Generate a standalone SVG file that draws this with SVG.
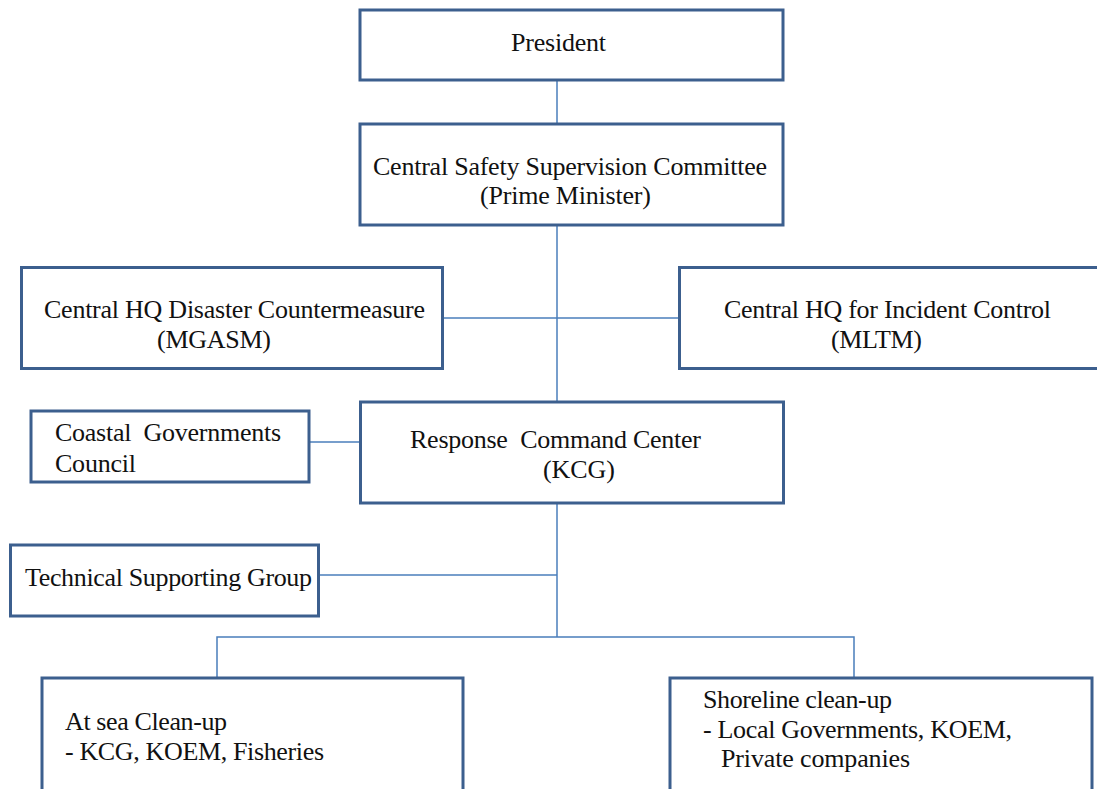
<svg xmlns="http://www.w3.org/2000/svg" width="1097" height="789" viewBox="0 0 1097 789">
<style>
.box{fill:#fff;stroke:#3c5f8e;stroke-width:3}
.t{font-family:"Liberation Serif","Times New Roman",serif;font-size:26px;fill:#111}
.c{fill:none;stroke:#4a7ebb;stroke-width:1.5}
</style>
<rect width="1097" height="789" fill="#fff"/>
<g id="connectors">
<path class="c" d="M557 81V123"/>
<path class="c" d="M557 226V402"/>
<path class="c" d="M443 318H679"/>
<path class="c" d="M309 442H360"/>
<path class="c" d="M557 503V637"/>
<path class="c" d="M319 575H557"/>
<path class="c" d="M217 678V637H854V678"/>
</g>
<g id="president">
<rect class="box" x="360" y="10" width="423" height="70"/>
<text class="t" x="511" y="51" textLength="95">President</text>
</g>
<g id="central-safety">
<rect class="box" x="360" y="124" width="423" height="101"/>
<text class="t" x="373" y="175" textLength="394">Central Safety Supervision Committee</text>
<text class="t" x="480" y="204" textLength="171">(Prime Minister)</text>
</g>
<g id="central-hq-disaster">
<rect class="box" x="21.5" y="267.5" width="421" height="101"/>
<text class="t" x="44" y="318" textLength="381">Central HQ Disaster Countermeasure</text>
<text class="t" x="157" y="348" textLength="114">(MGASM)</text>
</g>
<g id="central-hq-incident">
<rect class="box" x="679.5" y="267.5" width="430" height="101"/>
<text class="t" x="724" y="318" textLength="327">Central HQ for Incident Control</text>
<text class="t" x="831" y="348" textLength="91">(MLTM)</text>
</g>
<g id="coastal">
<rect class="box" x="31" y="411" width="278" height="71"/>
<text class="t" x="55" y="441" textLength="226" xml:space="preserve">Coastal  Governments</text>
<text class="t" x="55" y="472" textLength="81">Council</text>
</g>
<g id="response">
<rect class="box" x="360.5" y="402" width="423" height="101"/>
<text class="t" x="410" y="448" textLength="291" xml:space="preserve">Response  Command Center</text>
<text class="t" x="543" y="478" textLength="72">(KCG)</text>
</g>
<g id="technical">
<rect class="box" x="10.5" y="545" width="308" height="71"/>
<text class="t" x="25" y="586" textLength="287">Technical Supporting Group</text>
</g>
<g id="at-sea">
<rect class="box" x="42" y="678" width="421" height="130"/>
<text class="t" x="65" y="730" textLength="162">At sea Clean-up</text>
<text class="t" x="65" y="760" textLength="259">- KCG, KOEM, Fisheries</text>
</g>
<g id="shoreline">
<rect class="box" x="670" y="678" width="422" height="130"/>
<text class="t" x="703" y="708" textLength="189">Shoreline clean-up</text>
<text class="t" x="703" y="738" textLength="309">- Local Governments, KOEM,</text>
<text class="t" x="721" y="767" textLength="189">Private companies</text>
</g>
</svg>
